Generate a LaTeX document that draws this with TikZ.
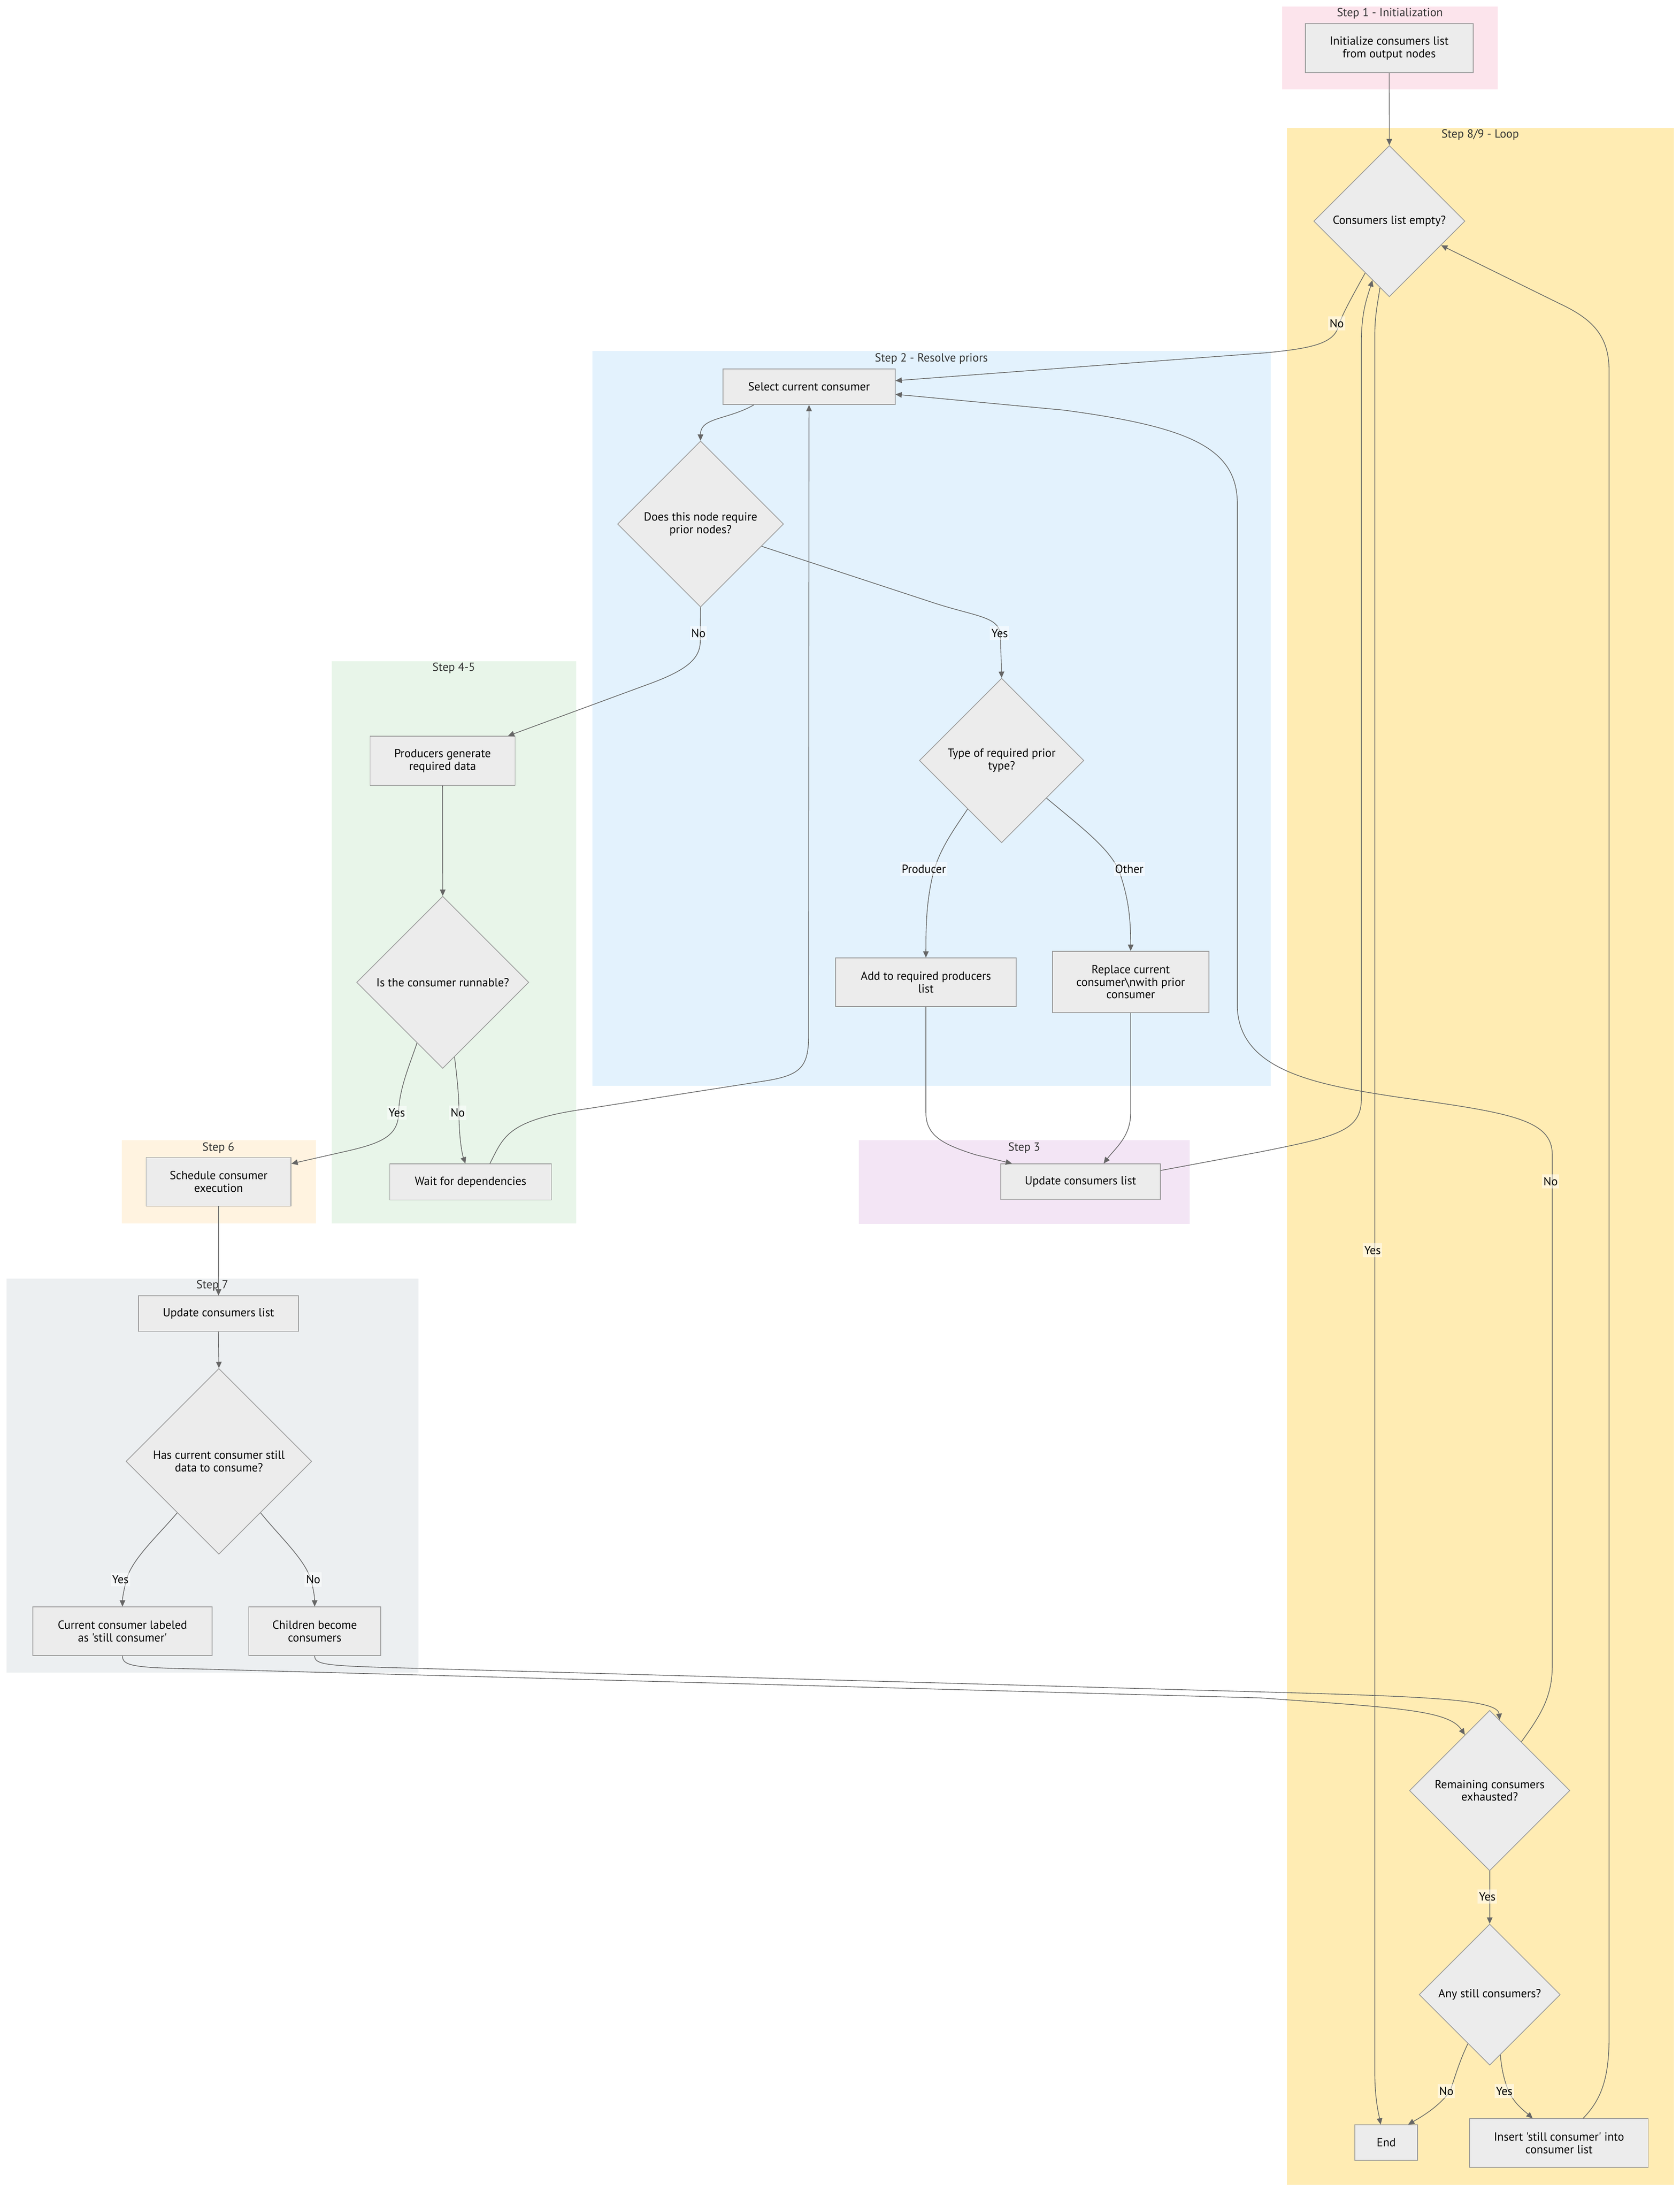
\documentclass[tikz,border=0pt]{standalone}
\usepackage{fontspec}
\newfontfamily\flowsans{PT Sans}[Ligatures=TeXOff]
\usetikzlibrary{shapes.geometric,arrows.meta}
\definecolor{nodefill}{HTML}{ECECEC}
\definecolor{nodeline}{HTML}{999999}
\definecolor{edgeline}{HTML}{666666}
\definecolor{titlegray}{HTML}{333333}
\definecolor{stepone}{HTML}{FCE4EC}
\definecolor{steptwo}{HTML}{E3F2FD}
\definecolor{stepthree}{HTML}{F3E5F5}
\definecolor{stepfour}{HTML}{E8F5E9}
\definecolor{stepsix}{HTML}{FFF3E0}
\definecolor{stepseven}{HTML}{ECEFF1}
\definecolor{steploop}{HTML}{FFECB3}
\begin{document}
\begin{tikzpicture}[x=1pt,y=-1pt,
    font=\flowsans\fontsize{8.4}{9}\selectfont,
    box/.style={draw=nodeline,fill=nodefill,line width=0.5pt,align=center,inner sep=0pt},
    dia/.style={diamond,aspect=1,draw=nodeline,fill=nodefill,line width=0.5pt,align=center,inner sep=0pt},
    flow/.style={draw=edgeline,line width=0.5pt,-{Triangle[length=4.5pt,width=4pt]}},
    elabel/.style={fill=white,fill opacity=0.5,text opacity=1,inner xsep=1pt,inner ysep=2pt},
    ctitle/.style={text=titlegray}]
    \useasboundingbox (0,0) rectangle (1200,1565.3);
    % subgraphs
    \fill[stepone] (916,4.6) rectangle (1070,64);
    \fill[steploop] (919.5,91.4) rectangle (1196,1561);
    \fill[steptwo] (423.3,250.8) rectangle (908,775.6);
    \fill[stepfour] (237,472.3) rectangle (411.7,874);
    \fill[stepsix] (87,814.7) rectangle (225.6,874);
    \fill[stepthree] (613.5,814.7) rectangle (850,874.3);
    \fill[stepseven] (4.8,913.4) rectangle (299,1195);
    \node[ctitle] (t1) at (993,9.7) {Step 1 - Initialization};
    \node[ctitle] (tloop) at (1057.5,96.4) {Step 8/9 - Loop};
    \node[ctitle] (t2) at (665.4,256.3) {Step 2 - Resolve priors};
    \node[ctitle] (t45) at (324.2,477.2) {Step 4-5};
    \node[ctitle] (t6) at (156,820) {Step 6};
    \node[ctitle] (t3) at (731.7,820) {Step 3};
    \node[ctitle] (t7) at (151.7,918.3) {Step 7};
    % steps
    \node[box,minimum width=120pt,minimum height=35pt] (init) at (992.5,34.5) {Initialize consumers list\\from output nodes};
    \node[dia,minimum size=108pt] (empty) at (992.6,158) {Consumers list empty?};
    \node[box,minimum width=123pt,minimum height=25.4pt] (select) at (578,276.3) {Select current consumer};
    \node[dia,minimum size=118.6pt] (require) at (500.5,374.4) {Does this node require\\prior nodes?};
    \node[dia,minimum size=117.5pt] (type) at (715.6,543.3) {Type of required prior\\type?};
    \node[box,minimum width=129pt,minimum height=34.6pt] (addprod) at (661.5,701.7) {Add to required producers\\list};
    \node[box,minimum width=111.7pt,minimum height=43.8pt] (replace) at (807.8,701.5) {Replace current\\consumer\textbackslash nwith prior\\consumer};
    \node[box,minimum width=103.7pt,minimum height=35pt] (produce) at (316.2,543.5) {Producers generate\\required data};
    \node[dia,minimum size=123pt] (runnable) at (316.3,701.8) {Is the consumer runnable?};
    \node[box,minimum width=103.5pt,minimum height=34.7pt] (schedule) at (156.2,844.3) {Schedule consumer\\execution};
    \node[box,minimum width=115.6pt,minimum height=25.8pt] (wait) at (336.2,844.4) {Wait for dependencies};
    \node[box,minimum width=114pt,minimum height=25.5pt] (update3) at (772,844.2) {Update consumers list};
    \node[box,minimum width=114.2pt,minimum height=25.4pt] (update7) at (156.1,938.5) {Update consumers list};
    \node[dia,minimum size=132.7pt] (still) at (156.4,1044) {Has current consumer still\\data to consume?};
    \node[box,minimum width=128pt,minimum height=34.8pt] (labeled) at (87.5,1165.4) {Current consumer labeled\\as 'still consumer'};
    \node[box,minimum width=94.4pt,minimum height=34.8pt] (children) at (224.8,1165.4) {Children become\\consumers};
    \node[dia,minimum size=114.6pt] (exhausted) at (1064.3,1279.2) {Remaining consumers\\exhausted?};
    \node[dia,minimum size=100.8pt] (anystill) at (1064.3,1425) {Any still consumers?};
    \node[box,minimum width=44.8pt,minimum height=25.3pt] (endn) at (990.4,1530.7) {End};
    \node[box,minimum width=127.6pt,minimum height=34.7pt] (insert) at (1113.8,1531) {Insert 'still consumer' into\\consumer list};
    % connectors
    \draw[flow] (init.south) -- (empty.north);
    \draw[flow] (empty.-115) .. controls (966,212) and (958,226) .. (956,234)
        .. controls (952,246) and (935,249) .. (905,252) -- (select.4);
    \draw[flow] ([xshift=-39.4pt]select.south) .. controls (520,300) and (500.3,298) .. (require.north);
    \draw[flow] (require.south) -- (500.3,458) .. controls (500.3,472) and (488,480) .. (460,490)
        -- ([xshift=46.7pt]produce.north);
    \draw[flow] (require.-20) -- (665,430) .. controls (698,441) and (714.8,440) .. (714.8,455) -- (type.north);
    \draw[flow] (type.-125) .. controls (682,592) and (670,608) .. (666,627)
        .. controls (662,645) and (661.5,660) .. (addprod.north);
    \draw[flow] (type.-40) .. controls (775,593) and (795,608) .. (800.5,625)
        .. controls (806,642) and (807.8,655) .. (replace.north);
    \draw[flow] (addprod.south) -- (661.5,795) .. controls (661.5,812) and (675,818) .. (697,825)
        -- ([xshift=-49pt]update3.north);
    \draw[flow] (replace.south) -- (807.8,795) .. controls (807.8,812) and (797,820) .. ([xshift=16.5pt]update3.north);
    \draw[flow] ([yshift=8pt]update3.east) -- (900,823) .. controls (955,812) and (972.6,808) .. (972.6,785)
        -- (972.6,245) .. controls (972.6,222) and (977,212) .. (empty.-106);
    \draw[flow] (empty.-98) .. controls (984,218) and (982.2,226) .. (982.2,240) -- (982.2,1480)
        .. controls (982.2,1500) and (985,1510) .. ([xshift=-4pt]endn.north);
    \draw[flow] (produce.south) -- (runnable.north);
    \draw[flow] (runnable.-113) .. controls (293,760) and (285,778) .. (284.8,795)
        .. controls (284.5,812) and (272,817) .. (245,823) -- (schedule.14);
    \draw[flow] (runnable.-81) .. controls (326.5,770) and (327.9,782) .. (327.9,795)
        .. controls (327.9,812) and (330,824) .. ([xshift=-3.7pt]wait.north);
    \draw[flow] ([xshift=13.8pt]wait.north) .. controls (360,812) and (362,800) .. (420,792) -- (548,772)
        .. controls (572,768) and (577.7,762) .. (577.7,740) -- (select.south);
    \draw[flow] (schedule.south) -- (update7.north);
    \draw[flow] (update7.south) -- (still.north);
    \draw[flow] (still.-129) .. controls (112,1098) and (93,1115) .. (90,1130)
        .. controls (88,1138) and (87.5,1142) .. (labeled.north);
    \draw[flow] (still.-51) .. controls (200,1098) and (219,1115) .. (222.5,1130)
        .. controls (224.5,1138) and (224.8,1142) .. (children.north);
    \draw[flow] (labeled.south) .. controls (87.5,1190) and (95,1191.5) .. (140,1192.3) -- (900,1213)
        .. controls (1000,1220) and (1035,1222) .. (exhausted.114);
    \draw[flow] (children.south) .. controls (225,1189) and (232,1190) .. (280,1191.4) -- (900,1208.7)
        .. controls (1020,1212) and (1070,1214) .. (exhausted.82);
    \draw[flow] (exhausted.57) .. controls (1101,1225) and (1109,1212) .. (1109,1190) -- (1109,825)
        .. controls (1109,800) and (1080,795) .. (1000,784) .. controls (940,775) and (886,765) .. (884,720)
        -- (884,360) .. controls (884,320) and (850,305) .. (760,293) -- (select.-5);
    \draw[flow] (exhausted.south) -- (anystill.north);
    \draw[flow] (anystill.-114) .. controls (1043,1472) and (1040,1482) .. (1036,1494)
        .. controls (1028,1505) and (1016,1512) .. ([xshift=15.6pt]endn.north);
    \draw[flow] (anystill.-80) .. controls (1073,1480) and (1075,1487) .. (1077.8,1494)
        .. controls (1082,1503) and (1089,1508) .. ([xshift=-18.8pt]insert.north);
    \draw[flow] ([xshift=17.2pt]insert.north) .. controls (1144,1500) and (1149.6,1485) .. (1149.6,1455)
        -- (1149.6,265) .. controls (1149.6,240) and (1138,228) .. (1114,216.8) -- (empty.-25);
    % connector labels
    \node[elabel] (lno1) at (955,231) {No};
    \node[elabel] (lno2) at (499,452.4) {No};
    \node[elabel] (lyes1) at (714.2,452.4) {Yes};
    \node[elabel] (lprod) at (660,620.8) {Producer};
    \node[elabel] (lother) at (806.8,620.8) {Other};
    \node[elabel] (lyes2) at (283.5,795) {Yes};
    \node[elabel] (lno3) at (327,795) {No};
    \node[elabel] (lyes3) at (86,1128.4) {Yes};
    \node[elabel] (lno4) at (223.8,1128.4) {No};
    \node[elabel] (lyes4) at (980.6,893.2) {Yes};
    \node[elabel] (lno5) at (1107.8,844) {No};
    \node[elabel] (lyes5) at (1062.6,1355) {Yes};
    \node[elabel] (lno6) at (1033.3,1494) {No};
    \node[elabel] (lyes6) at (1074.7,1494) {Yes};
\end{tikzpicture}
\end{document}
